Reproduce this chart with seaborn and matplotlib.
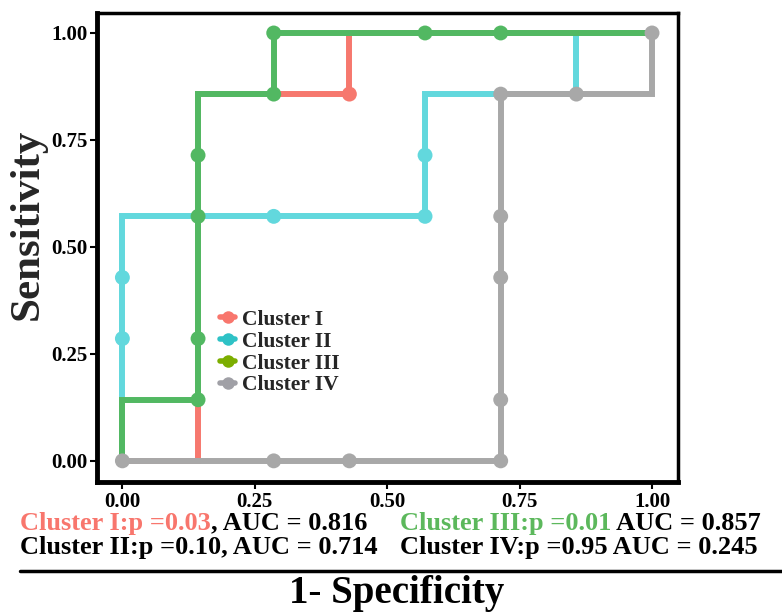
import matplotlib
matplotlib.use("Agg")
import matplotlib.pyplot as plt
from matplotlib.lines import Line2D
import seaborn as sns
import pandas as pd

sns.set_theme(style="white")
plt.rcParams['font.family'] = ['Liberation Serif', 'DejaVu Serif']
plt.rcParams['font.weight'] = 'bold'

k = 1.0 / 7
clusters = ["Cluster I", "Cluster II", "Cluster III", "Cluster IV"]

# ROC path vertices (1 - specificity, sensitivity)
c1_x = [0, k, k, k, k, k, k, 2*k, 3*k, 3*k, 4*k, 5*k, 1]
c1_y = [0, 0, k, 2*k, 4*k, 5*k, 6*k, 6*k, 6*k, 1, 1, 1, 1]
c2_x = [0, 0, 0, 0, k, 2*k, 4*k, 4*k, 4*k, 5*k, 6*k, 6*k, 1]
c2_y = [0, 2*k, 3*k, 4*k, 4*k, 4*k, 4*k, 5*k, 6*k, 6*k, 6*k, 1, 1]
c3_x = [0, 0, k, k, k, k, k, 2*k, 2*k, 4*k, 5*k, 1]
c3_y = [0, k, k, 2*k, 4*k, 5*k, 6*k, 6*k, 1, 1, 1, 1]
c4_x = [0, 2*k, 3*k, 5*k, 5*k, 5*k, 5*k, 5*k, 6*k, 1, 1]
c4_y = [0, 0, 0, 0, k, 3*k, 4*k, 6*k, 6*k, 6*k, 1]

# points drawn with markers
m1_x = [3*k]
m1_y = [6*k]
m2_x = [0, 0, 2*k, 4*k, 4*k]
m2_y = [2*k, 3*k, 4*k, 4*k, 5*k]
m3_x = [k, k, k, k, 2*k, 2*k, 4*k, 5*k]
m3_y = [k, 2*k, 4*k, 5*k, 6*k, 1, 1, 1]
m4_x = [0, 2*k, 3*k, 5*k, 5*k, 5*k, 5*k, 5*k, 6*k, 1]
m4_y = [0, 0, 0, 0, k, 3*k, 4*k, 6*k, 6*k, 1]

line_colors = {"Cluster I": "#F6786E", "Cluster II": "#62D8DD",
               "Cluster III": "#52B862", "Cluster IV": "#A8A8A8"}
legend_colors = {"Cluster I": "#F8766D", "Cluster II": "#2EC2C6",
                 "Cluster III": "#7CAE00", "Cluster IV": "#A0A0A6"}

paths = pd.concat([
    pd.DataFrame({"x": c1_x, "y": c1_y, "cluster": "Cluster I"}),
    pd.DataFrame({"x": c2_x, "y": c2_y, "cluster": "Cluster II"}),
    pd.DataFrame({"x": c3_x, "y": c3_y, "cluster": "Cluster III"}),
    pd.DataFrame({"x": c4_x, "y": c4_y, "cluster": "Cluster IV"}),
])
marks = pd.concat([
    pd.DataFrame({"x": m1_x, "y": m1_y, "cluster": "Cluster I"}),
    pd.DataFrame({"x": m2_x, "y": m2_y, "cluster": "Cluster II"}),
    pd.DataFrame({"x": m3_x, "y": m3_y, "cluster": "Cluster III"}),
    pd.DataFrame({"x": m4_x, "y": m4_y, "cluster": "Cluster IV"}),
])

fig = plt.figure(figsize=(7.82, 6.13), dpi=100)
ax = fig.add_axes([0.124, 0.214, 0.743, 0.765])

for c in clusters:
    sub = paths[paths.cluster == c]
    sns.lineplot(data=sub, x="x", y="y", sort=False, estimator=None,
                 color=line_colors[c], lw=4.3, ax=ax, legend=False,
                 solid_joinstyle="miter", zorder=2)
    msub = marks[marks.cluster == c]
    sns.scatterplot(data=msub, x="x", y="y", color=line_colors[c], s=115,
                    edgecolor="none", ax=ax, legend=False, zorder=3)

ax.set_xlim(-0.048, 1.049)
ax.set_ylim(-0.049, 1.047)
ticks = [0, 0.25, 0.5, 0.75, 1.0]
tick_labels = ["0.00", "0.25", "0.50", "0.75", "1.00"]
ax.set_xticks(ticks)
ax.set_xticklabels(tick_labels)
ax.set_yticks(ticks)
ax.set_yticklabels(tick_labels)
ax.tick_params(axis="both", which="both", direction="out", length=5, width=1.5,
               color="black", labelsize=15, labelcolor="black", pad=2,
               bottom=True, left=True)
for lab in ax.get_xticklabels() + ax.get_yticklabels():
    lab.set_fontweight("bold")
for sp in ax.spines.values():
    sp.set_visible(True)
    sp.set_color("black")
    sp.set_linewidth(2.5)
ax.spines["left"].set_linewidth(3.5)
ax.spines["bottom"].set_linewidth(3.5)
ax.set_xlabel("")
ax.set_ylabel("Sensitivity", fontsize=31, fontweight="bold")
ax.yaxis.set_label_coords(-0.087, 0.548)

handles = [Line2D([0], [0], color=legend_colors[c], lw=4, marker="o",
                  markersize=9, markeredgewidth=0) for c in clusters]
leg = ax.legend(handles, clusters, loc="upper left",
                bbox_to_anchor=(0.197, 0.385), frameon=False,
                prop={"weight": "bold", "size": 15.5, "family": "Liberation Serif"},
                handlelength=0.7, handletextpad=0.3, labelspacing=0.08,
                borderaxespad=0)

# bottom annotations
fs = 19
t1 = fig.text(0.026, 0.136, "Cluster I:p =0.03", color="#F8766D", fontsize=fs,
              fontweight="bold", va="baseline")
ax.annotate(", AUC = 0.816", xy=(1, 0), xycoords=t1, va="bottom", ha="left",
            fontsize=fs, fontweight="bold", color="black", annotation_clip=False)
fig.text(0.026, 0.097, "Cluster II:p =0.10, AUC = 0.714", color="black",
         fontsize=fs, fontweight="bold", va="baseline")
t3 = fig.text(0.511, 0.136, "Cluster III:p =0.01", color="#5CB85C", fontsize=fs,
              fontweight="bold", va="baseline")
ax.annotate(" AUC = 0.857", xy=(1, 0), xycoords=t3, va="bottom", ha="left",
            fontsize=fs, fontweight="bold", color="black", annotation_clip=False)
fig.text(0.511, 0.097, "Cluster IV:p =0.95 AUC = 0.245", color="black",
         fontsize=fs, fontweight="bold", va="baseline")

fig.add_artist(Line2D([0.026, 1.0], [0.069, 0.069], transform=fig.transFigure,
                      color="black", lw=2.5))
fig.text(0.507, 0.016, "1- Specificity", ha="center", va="baseline",
         fontsize=28, fontweight="bold", color="black")

fig.savefig("out.png", dpi=100)
